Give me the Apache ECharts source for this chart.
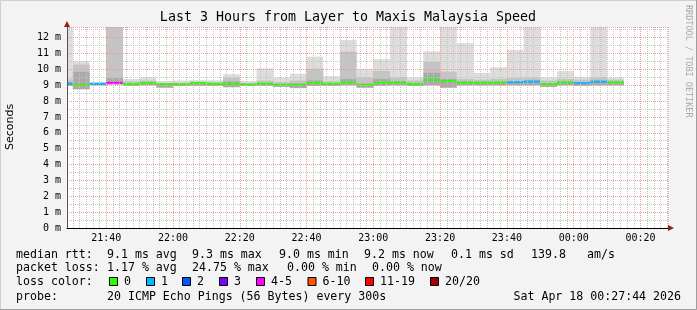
<!DOCTYPE html>
<html><head><meta charset="utf-8">
<script src="https://cdn.jsdelivr.net/npm/echarts@6/dist/echarts.min.js"></script>
<style>html,body{margin:0;padding:0;background:#f3f3f3}#c{width:697px;height:310px}</style>
</head><body><div id="c"></div>
<script>
// ---- data (5-minute slots; start time of each slot) ----
const slotStart = ['21:25','21:30','21:35','21:40','21:45','21:50','21:55','22:00','22:05','22:10',
  '22:15','22:20','22:25','22:30','22:35','22:40','22:45','22:50','22:55','23:00',
  '23:05','23:10','23:15','23:20','23:25','23:30','23:35','23:40','23:45','23:50',
  '23:55','00:00','00:05','00:10'];
const smokeMax  = [12.7,10.52,9.2,12.7,9.39,9.51,9.27,9.3,9.32,9.32,9.7,9.26,10.07,9.47,9.72,10.8,9.57,11.85,10.03,10.64,12.7,9.5,11.14,12.7,11.65,9.78,10.13,11.22,12.7,9.5,9.89,9.53,12.7,9.48];
const smokeMid  = [9.4,10.3,9.15,12.7,9.25,9.3,9.15,9.15,9.2,9.2,9.47,9.15,9.3,9.2,9.3,10.04,9.25,11.12,9.5,9.9,9.5,9.3,10.47,9.85,9.4,9.35,9.4,9.45,9.5,9.3,9.4,9.35,9.5,9.35];
const smokeDark = [9.2,9.85,9.12,9.45,9.12,9.2,9.1,9.1,9.18,9.12,9.25,9.08,9.15,9.08,9.1,9.3,9.12,9.4,9.1,9.4,9.25,9.12,9.79,9.4,9.25,9.22,9.22,9.25,9.3,9.12,9.22,9.18,9.3,9.22];
const smokeMin  = [8.95,8.75,9.0,9.05,8.95,9.0,8.85,8.95,8.95,8.95,8.88,8.95,8.95,8.9,8.82,8.95,8.95,9.0,8.85,8.95,9.0,8.95,9.0,8.85,9.0,9.0,9.0,9.0,9.0,8.9,9.0,8.95,9.0,9.0];
const medianRtt = [9.09,9.02,9.09,9.15,9.07,9.15,9.06,9.06,9.15,9.09,9.08,9.04,9.1,9.03,9.03,9.14,9.09,9.18,9.02,9.16,9.17,9.08,9.34,9.26,9.16,9.16,9.17,9.19,9.23,9.07,9.18,9.13,9.22,9.18];
const lossPings = [1,0,1,5,0,0,0,0,0,0,0,0,0,0,0,0,0,0,0,0,0,0,0,0,0,0,0,1,1,0,0,1,1,0];
const xTicks = ['21:40','22:00','22:20','22:40','23:00','23:20','23:40','00:00','00:20'];
const yTicks = [0,1,2,3,4,5,6,7,8,9,10,11,12];
const lossLabels = ['0','1','2','3','4-5','6-10','11-19','20/20'];
const lossColors = ['#26ff00','#00b8ff','#0059ff','#7e00ff','#ff00ff','#ff5500','#ff0000','#a10000'];
const lossUpper  = [0,1,2,3,5,10,19,20];
const title = 'Last 3 Hours from Layer to Maxis Malaysia Speed';
const statsRtt  = ['median rtt:','9.1 ms avg','9.3 ms max','9.0 ms min','9.2 ms now','0.1 ms sd','139.8','am/s'];
const statsLoss = ['packet loss:','1.17 % avg','24.75 % max','0.00 % min','0.00 % now'];
const probeText = ['probe:','20 ICMP Echo Pings (56 Bytes) every 300s','Sat Apr 18 00:27:44 2026'];

// ---- helpers ----
function toTime(hm, s) {
  const [h, m] = hm.split(':').map(Number);
  return new Date(2026, 3, h < 12 ? 18 : 17, h, m, s || 0).getTime();
}
const STEP = 5 * 60000;
const axisStart = toTime('21:28', 15), axisEnd = toTime('00:28', 15);
function lossColor(n) { for (let i = 0; i < lossUpper.length; i++) if (n <= lossUpper[i]) return lossColors[i]; return lossColors[lossColors.length-1]; }
const pad = n => (n < 10 ? '0' : '') + n;
const xTickValues = xTicks.map(s => toTime(s));

const data = slotStart.map((s, i) => {
  const t0 = toTime(s);
  return [t0, t0 + STEP, smokeMin[i], smokeMax[i], smokeMid[i], smokeDark[i], medianRtt[i], lossPings[i]];
});

function renderItem(params, api) {
  const t0 = api.value(0), t1 = api.value(1);
  const cs = params.coordSys;
  const clipR = {x: cs.x, y: cs.y, width: cs.width, height: cs.height};
  function rect(a, b, fill) {
    const p0 = api.coord([t0, b]), p1 = api.coord([t1, a]);
    const r = echarts.graphic.clipRectByRect({x: p0[0], y: p0[1], width: p1[0]-p0[0], height: p1[1]-p0[1]}, clipR);
    return r ? {type: 'rect', shape: r, style: {fill: fill}} : null;
  }
  const children = [];
  [rect(api.value(2), api.value(3), '#dddddd'), rect(api.value(2), api.value(4), '#c4c4c4'), rect(api.value(2), api.value(5), '#aaaaaa')]
    .forEach(c => c && children.push(c));
  const pm0 = api.coord([t0, api.value(6)]), pm1 = api.coord([t1, api.value(6)]);
  const ml = echarts.graphic.clipRectByRect({x: pm0[0], y: pm0[1]-1, width: pm1[0]-pm0[0], height: 2}, clipR);
  if (ml) children.push({type: 'rect', shape: ml, style: {fill: lossColor(api.value(7))}});
  return {type: 'group', children: children};
}

const MONO = 'DejaVu Sans Mono';
const graphics = [];
function txt(x, y, s, o) {
  graphics.push({type: 'text', x: x, y: y, z: 10, style: Object.assign({text: s, fill: '#000', font: '11.6px "' + MONO + '"', textAlign: 'left', textVerticalAlign: 'middle'}, o || {})});
}
// frame
graphics.push({type: 'rect', shape: {x: 0.5, y: 0.5, width: 696, height: 309}, style: {fill: 'none', stroke: '#cfcfcf', lineWidth: 1}, z: 10});
graphics.push({type: 'polyline', shape: {points: [[696.5, 0], [696.5, 309.5], [0, 309.5]]}, style: {stroke: '#9e9e9e', lineWidth: 1, fill: 'none'}, z: 10});
// title
graphics.push({type: 'text', x: 348, y: 18, z: 10, style: {text: title, fill: '#000', font: '13.3px "' + MONO + '"', textAlign: 'center', textVerticalAlign: 'middle'}});
// y title
graphics.push({type: 'text', x: 10, y: 127, rotation: Math.PI / 2, z: 10, style: {text: 'Seconds', fill: '#000', font: '11px "DejaVu Sans"', textAlign: 'center', textVerticalAlign: 'middle'}});
// watermark
graphics.push({type: 'text', x: 688, y: 5, rotation: -Math.PI / 2, z: 10, style: {text: 'RRDTOOL / TOBI OETIKER', fill: '#a8a8a8', font: '8.5px "' + MONO + '"', textAlign: 'left', textVerticalAlign: 'middle'}});
// arrows
graphics.push({type: 'polygon', shape: {points: [[64, 27], [70, 27], [67, 21]]}, style: {fill: '#8f1f1f'}, z: 10});
graphics.push({type: 'polygon', shape: {points: [[668, 225], [668, 231], [674, 228]]}, style: {fill: '#8f1f1f'}, z: 10});
// legend lines
const rttX = [16, 107, 192, 279, 364, 451, 531, 587];
statsRtt.forEach((s, i) => txt(rttX[i], 254.5, s));
const lossX = [16, 107, 192, 287, 372];
statsLoss.forEach((s, i) => txt(lossX[i], 268, s));
const boxX = [109, 146, 182, 219, 256, 307.5, 365, 430];
txt(16, 282, 'loss color:');
lossLabels.forEach((s, i) => {
  graphics.push({type: 'rect', shape: {x: boxX[i] + 0.5, y: 277.5, width: 8, height: 8}, style: {fill: lossColors[i], stroke: '#000', lineWidth: 1}, z: 10});
  txt(boxX[i] + 15, 282, s);
});
txt(16, 296.5, probeText[0]);
txt(107, 296.5, probeText[1]);
txt(681, 296.5, probeText[2], {textAlign: 'right'});

const majorGrid = {show: true, lineStyle: {color: '#f29a9a', width: 1, type: [1, 1]}};
const minorGrid = {show: true, lineStyle: {color: '#c4c4c4', width: 1, type: [1, 1]}};

const chart = echarts.init(document.getElementById('c'), null, {renderer: 'canvas'});
chart.setOption({
  backgroundColor: '#f3f3f3',
  animation: false,
  grid: {left: 67, right: 29, top: 27, bottom: 82, show: true, backgroundColor: '#ffffff', borderWidth: 0},
  xAxis: [
    {type: 'value', min: axisStart, max: axisEnd, z: 4,
     axisLine: {show: true, onZero: false, lineStyle: {color: '#000', width: 1}},
     axisTick: {show: false, customValues: xTickValues},
     axisLabel: {margin: 5, color: '#000', fontFamily: MONO, fontSize: 10, customValues: xTickValues,
       formatter: v => { const d = new Date(v); return pad(d.getHours()) + ':' + pad(d.getMinutes()); }},
     splitLine: majorGrid},
    {type: 'time', min: axisStart, max: axisEnd, minInterval: 5 * 60000, maxInterval: 5 * 60000, z: 3, position: 'bottom',
     axisLine: {show: false}, axisTick: {show: false}, axisLabel: {show: false}, splitLine: minorGrid}
  ],
  yAxis: {type: 'value', min: 0, max: 12.67, interval: 1, z: 4,
    axisLine: {show: true, lineStyle: {color: '#555', width: 1}},
    axisTick: {show: false},
    axisLabel: {margin: 6, color: '#000', fontFamily: MONO, fontSize: 10, showMaxLabel: false,
      formatter: v => (yTicks.indexOf(v) >= 0 ? v + ' m' : '')},
    splitLine: majorGrid,
    minorTick: {show: false, splitNumber: 2},
    minorSplitLine: minorGrid},
  series: [{type: 'custom', xAxisIndex: 0, yAxisIndex: 0, z: 1, renderItem: renderItem, data: data,
    encode: {x: [0, 1], y: [2, 3]}}],
  graphic: graphics
});
</script></body></html>
